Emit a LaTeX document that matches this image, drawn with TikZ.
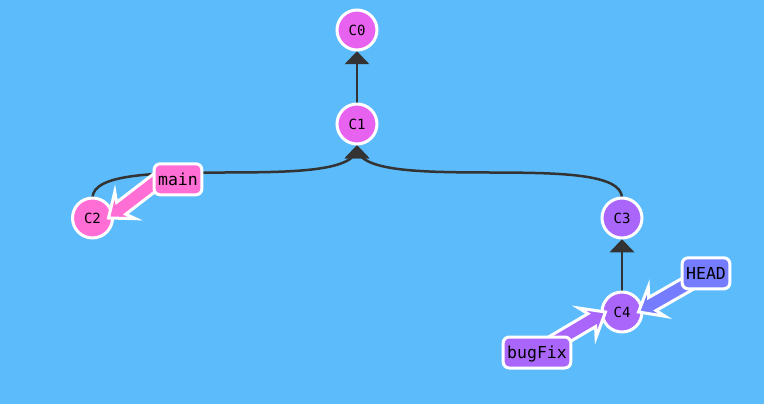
\documentclass[tikz,border=0pt]{standalone}
\usepackage{fontspec}
\newfontfamily\gitmono{DejaVu Sans Mono}
\usetikzlibrary{calc}
\pgfdeclarelayer{bglayer}
\pgfdeclarelayer{edgelayer}
\pgfdeclarelayer{commitlayer}
\pgfdeclarelayer{arrowlayer}
\pgfsetlayers{bglayer,edgelayer,commitlayer,arrowlayer,main}
\definecolor{bgcol}{RGB}{92,187,251}
\definecolor{maincommit}{RGB}{232,98,240}
\definecolor{pinkcol}{RGB}{255,110,212}
\definecolor{purplecol}{RGB}{170,102,250}
\definecolor{headcol}{RGB}{118,124,255}
\definecolor{edgecol}{RGB}{51,51,51}
\tikzset{
  commit/.style={circle, draw=white, line width=3, minimum size=40, inner sep=0,
    font=\gitmono\fontsize{14}{16}\selectfont},
  branch/.style={rounded corners=6, draw=white, line width=3, minimum height=31,
    inner xsep=4, inner ysep=0, text height=12, text depth=0,
    font=\gitmono\fontsize{16.5}{19}\selectfont},
  edgeline/.style={draw=edgecol, line width=2.5},
  fatarrow/.style={draw=white, line width=3, line join=miter},
}
\newcommand\gitedge[2]{%
  \draw[edgeline] ($(#1.center)+(0,-20)$) .. controls ($(#1.center)+(0,-70)$) and ($(#2.center)+(0,73)$) .. ($(#2.center)+(0,23)$);
  \filldraw[edgeline, fill=edgecol, line join=miter] ($(#2.center)+(0,23)$) -- ++(-9.5,10) -- ++(19,0) -- cycle;
}
\newcommand\brarrow[3]{%
  \pgfmathanglebetweenpoints{\pgfpointanchor{#1}{center}}{\pgfpointanchor{#2}{center}}%
  \edef\brang{\pgfmathresult}%
  \begin{scope}[shift={(#1)}, rotate=\brang]
    \draw[fatarrow, fill=#3] (0,0) -- (21,17) -- (16,7.5) -- (70,7.5) -- (70,-7.5) -- (16,-7.5) -- (21,-17) -- cycle;
  \end{scope}%
}
\begin{document}
\begin{tikzpicture}[x=1pt,y=-1pt]
\begin{pgfonlayer}{bglayer}
  \fill[bgcol] (0,0) rectangle (764,404);
  \useasboundingbox (0,0) rectangle (764,404);
\end{pgfonlayer}
\begin{pgfonlayer}{commitlayer}
  \node[commit, fill=maincommit] (C0) at (357,30) {C0};
  \node[commit, fill=maincommit] (C1) at (357,124) {C1};
  \node[commit, fill=pinkcol] (C2) at (92.5,218) {C2};
  \node[commit, fill=purplecol] (C3) at (622,218) {C3};
  \node[commit, fill=purplecol] (C4) at (622,312) {C4};
\end{pgfonlayer}
\begin{pgfonlayer}{edgelayer}
  \gitedge{C1}{C0}
  \gitedge{C2}{C1}
  \gitedge{C3}{C1}
  \gitedge{C4}{C3}
\end{pgfonlayer}
\node[branch, fill=pinkcol] (main) at (178,179.3) {main};
\node[branch, fill=headcol] (HEAD) at (706,273.3) {HEAD};
\node[branch, fill=purplecol] (bugFix) at (537,352.5) {bugFix};
\coordinate (mainTip) at ($(C2.center)+(16,0)$);
\coordinate (mainAim) at ($(main.center)+(-10,-7)$);
\coordinate (headTip) at ($(C4.center)+(16.5,0)$);
\coordinate (headAim) at (HEAD.center);
\coordinate (bugTip) at ($(C4.center)+(-16.5,0)$);
\coordinate (bugAim) at (bugFix.center);
\begin{pgfonlayer}{arrowlayer}
  \brarrow{mainTip}{mainAim}{pinkcol}
  \brarrow{headTip}{headAim}{headcol}
  \brarrow{bugTip}{bugAim}{purplecol}
\end{pgfonlayer}
\end{tikzpicture}
\end{document}
